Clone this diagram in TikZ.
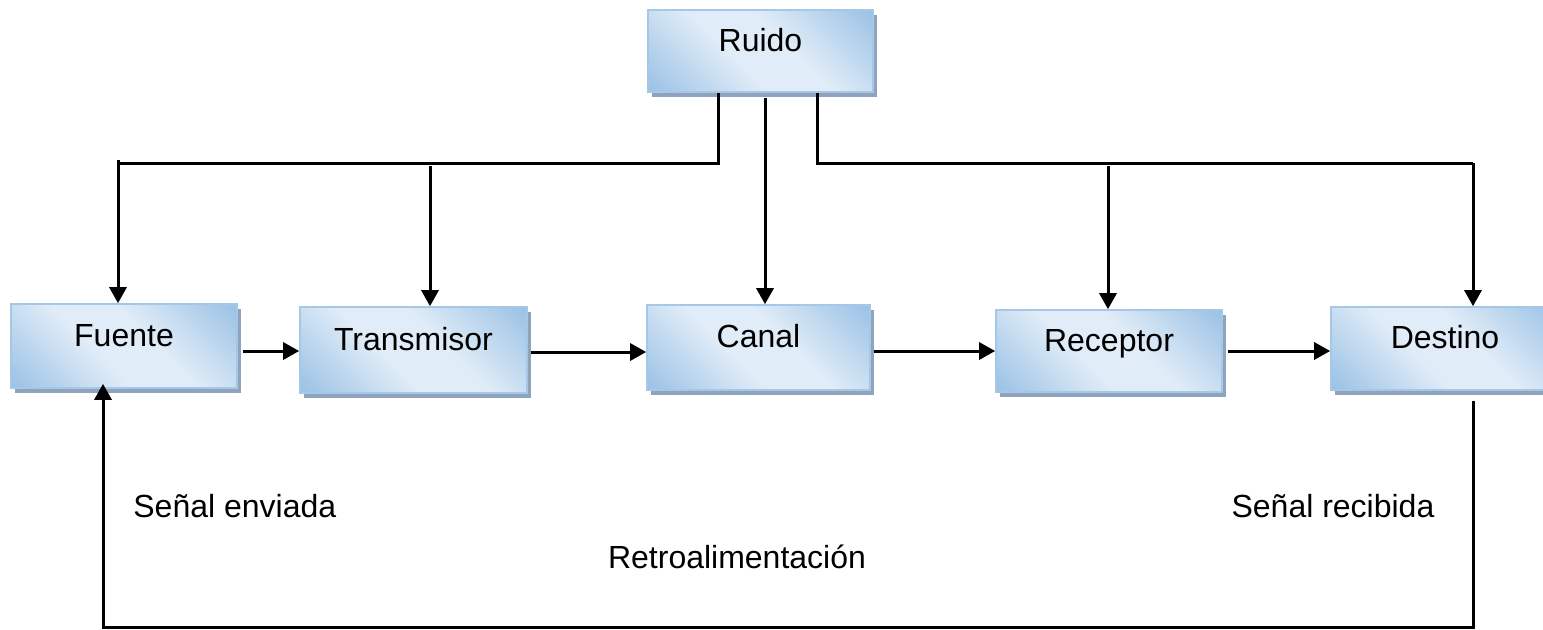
\documentclass[tikz,border=0pt]{standalone}
\usepackage{fontspec}
\setmainfont{Liberation Sans}
\usetikzlibrary{arrows.meta,shadows}
\definecolor{boxdark}{RGB}{152,192,229}
\definecolor{boxlight}{RGB}{224,236,247}
\definecolor{boxline}{RGB}{165,200,232}
\definecolor{boxshadow}{RGB}{143,164,188}
% diagonal fill of the blocks: darker corners, wide pale band
\pgfdeclareverticalshading{boxgrad}{100bp}{color(0bp)=(boxdark); color(14bp)=(boxdark); color(42bp)=(boxlight); color(58bp)=(boxlight); color(86bp)=(boxdark); color(100bp)=(boxdark)}
\begin{document}
\begin{tikzpicture}[x=0.5pt,y=-0.5pt,
  font=\fontsize{16}{19}\selectfont,
  block/.style={rectangle, draw=boxline, line width=0.8pt,
    shade, shading=boxgrad, shading angle=-45, inner sep=0pt,
    text height=12pt, text depth=12pt,
    drop shadow={shadow xshift=2pt, shadow yshift=-2.5pt, fill=boxshadow, opacity=1}},
  wire/.style={line width=1.5pt, draw=black},
  arr/.style={wire, -{Triangle[length=8pt,width=8.5pt]}},
  lbl/.style={inner sep=0pt}]
\useasboundingbox (0,0) rectangle (1543,629);

% blocks
\node[block, minimum width=112.5pt, minimum height=41pt] (ruido) at (760.5,51) {Ruido};
\node[block, minimum width=113pt, minimum height=42pt] (fuente) at (124,346) {Fuente};
\node[block, minimum width=113.5pt, minimum height=43pt] (trans) at (413.5,350) {Transmisor};
\node[block, minimum width=111.5pt, minimum height=42.5pt] (canal) at (758.5,347.5) {Canal};
\node[block, minimum width=113pt, minimum height=41pt] (recep) at (1109,351) {Receptor};
\node[block, minimum width=114pt, minimum height=41.5pt] (dest) at (1445,348.5) {Destino};

% junction points of the noise lines
\coordinate (nl) at (718,163);
\coordinate (nr) at (817,163);
\coordinate (tl) at (118,160);
\coordinate (tx) at (430,166);
\coordinate (rx) at (1108,166);
\coordinate (fb1) at (1473,627);
\coordinate (fb2) at (103,627);

% noise distribution
\draw[wire] (ruido.south -| nl) -- (nl) -- (nl -| tl);
\draw[arr] (tl) -- (fuente.north -| tl);
\draw[arr] (tx) -- (trans.north -| tx);
\draw[arr] ([yshift=-2.5pt]ruido.south -| 765,0) -- (canal.north -| 765,0);
\draw[wire] (ruido.south -| nr) -- (nr) -- (nr -| fb1);
\draw[arr] (nr -| fb1) -- (dest.north -| fb1);
\draw[arr] (rx) -- (recep.north -| rx);

% signal chain
\draw[arr, shorten <=2.5pt] (fuente.east |- 0,351) -- (trans.west |- 0,351);
\draw[arr, shorten <=1.5pt] (trans.east |- 0,352) -- (canal.west |- 0,352);
\draw[arr, shorten <=1.5pt] (canal.east |- 0,351) -- (recep.west |- 0,351);
\draw[arr, shorten <=2.5pt] (recep.east |- 0,351) -- (dest.west |- 0,351);

% feedback loop
\draw[arr, shorten >=-2.5pt] ([yshift=-5pt]dest.south -| fb1) -- (fb1) -- (fb2) -- (fuente.south -| fb2);

% labels
\node[lbl, anchor=west] (env) at (133,506) {Señal enviada};
\node[lbl] (retro) at (737,557) {Retroalimentación};
\node[lbl] (rec) at (1333,506) {Señal recibida};
\end{tikzpicture}
\end{document}
